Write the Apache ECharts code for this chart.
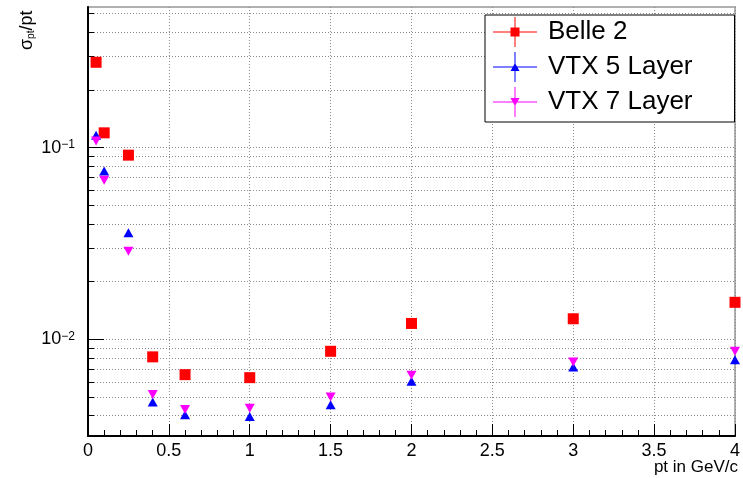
<!DOCTYPE html>
<html>
<head>
<meta charset="utf-8">
<script src="https://cdn.jsdelivr.net/npm/echarts@6/dist/echarts.min.js"></script>
<style>html,body{margin:0;padding:0;background:#fff}#chart{width:743px;height:478px}</style>
</head>
<body>
<div id="chart"></div>
<script>
// ---- data ----
const seriesNames = ['Belle 2', 'VTX 5 Layer', 'VTX 7 Layer'];
const ptValues = [0.05, 0.1, 0.25, 0.4, 0.6, 1.0, 1.5, 2.0, 3.0, 4.0];
const belle2 = [0.279, 0.1195, 0.0914, 0.0081, 0.00654, 0.00631, 0.00866, 0.0121, 0.0128, 0.0156];
const vtx5 = [0.116, 0.0756, 0.0360, 0.00471, 0.00404, 0.00396, 0.00456, 0.00605, 0.00717, 0.00783];
const vtx7 = [0.1085, 0.0676, 0.0288, 0.00516, 0.00430, 0.00437, 0.0050, 0.00649, 0.00761, 0.00866];
const yMajorTicks = [0.01, 0.1];
const yMinorTicks = [0.004, 0.005, 0.006, 0.007, 0.008, 0.009,
  0.02, 0.03, 0.04, 0.05, 0.06, 0.07, 0.08, 0.09, 0.2, 0.3, 0.4, 0.5];
const xTitle = 'pt in GeV/c';

const FONT = '"Liberation Sans", Arial, Helvetica, sans-serif';
const yMin = 0.00313, yMax = 0.542;

const pairs = arr => ptValues.map((x, i) => [x, arr[i]]);
const downTri = 'path://M0,0 L10,0 L5,10 Z';
const iconSq = 'path://M0,14.5 H44 V15.5 H0 Z M21.5,0 H22.5 V30 H21.5 Z M17.5,10.5 H26.5 V19.5 H17.5 Z';
const iconUp = 'path://M0,14.5 H44 V15.5 H0 Z M21.5,0 H22.5 V30 H21.5 Z M17.5,19 L22,11 L26.5,19 Z';
const iconDn = 'path://M0,14.5 H44 V15.5 H0 Z M21.5,0 H22.5 V30 H21.5 Z M17.5,11 L26.5,11 L22,19 Z';

const gridLine = {show: true, lineStyle: {color: '#8a8a8a', type: [1, 2], width: 1}};

const chart = echarts.init(document.getElementById('chart'), null, {renderer: 'canvas'});
chart.setOption({
  animation: false,
  backgroundColor: '#fff',
  grid: {left: 88, right: 3, top: 7, bottom: 42, show: true, borderColor: '#b0b0b0', borderWidth: 2},
  xAxis: {
    type: 'value', min: 0, max: 4, interval: 0.5,
    axisLine: {onZero: false, lineStyle: {color: '#000', width: 2}},
    axisTick: {inside: true, length: 12, lineStyle: {color: '#000', width: 1}},
    minorTick: {show: true, splitNumber: 5, length: 6, lineStyle: {color: '#000', width: 1}},
    splitLine: gridLine,
    axisLabel: {fontSize: 18, color: '#000', margin: 6, fontFamily: FONT}
  },
  yAxis: [{
    type: 'log', min: yMin, max: yMax, position: 'left',
    axisLine: {onZero: false, lineStyle: {color: '#000', width: 2}},
    axisTick: {inside: true, length: 16, customValues: yMajorTicks, lineStyle: {color: '#000', width: 1}},
    splitLine: gridLine,
    axisLabel: {
      customValues: yMajorTicks, fontSize: 18, color: '#000', margin: 13, fontFamily: FONT,
      formatter: v => '10{sup|\u2212' + (-Math.round(Math.log10(v))) + '}',
      rich: {sup: {fontSize: 12, verticalAlign: 'top', fontFamily: FONT, color: '#000'}}
    }
  }, {
    type: 'log', min: yMin, max: yMax, position: 'left',
    axisLine: {show: false},
    axisTick: {inside: true, length: 6, customValues: yMinorTicks, lineStyle: {color: '#000', width: 1}},
    splitLine: gridLine,
    axisLabel: {show: false}
  }],
  legend: {
    orient: 'vertical', left: 485, top: 15, padding: [2, 42, 5, 8], itemGap: 5,
    itemWidth: 44, itemHeight: 30, backgroundColor: '#fff', borderColor: '#000', borderWidth: 1,
    textStyle: {fontSize: 26, color: '#000', fontFamily: FONT, padding: [0, 0, 0, 6]},
    data: [{name: seriesNames[0], icon: iconSq}, {name: seriesNames[1], icon: iconUp}, {name: seriesNames[2], icon: iconDn}]
  },
  graphic: [{
    type: 'text', x: 738, y: 467,
    style: {text: xTitle, font: '17px ' + FONT, fill: '#000', align: 'right', verticalAlign: 'middle', textAlign: 'right', textVerticalAlign: 'middle'}
  }, {
    type: 'text', x: 36, y: 50, rotation: Math.PI / 2,
    style: {
      text: '\u03c3{sub|pt}/pt', font: '18px ' + FONT, fill: '#000',
      align: 'left', verticalAlign: 'bottom', textAlign: 'left', textVerticalAlign: 'bottom',
      rich: {sub: {fontSize: 10, verticalAlign: 'bottom', fontFamily: FONT, fill: '#000', color: '#000'}}
    }
  }],
  series: [{
    name: seriesNames[0], type: 'scatter', data: pairs(belle2), symbol: 'rect', symbolSize: 11,
    itemStyle: {color: '#ff0000', opacity: 1}, z: 3
  }, {
    name: seriesNames[1], type: 'scatter', data: pairs(vtx5), symbol: 'triangle', symbolSize: [10, 9],
    itemStyle: {color: '#0000ff', opacity: 1}, z: 3
  }, {
    name: seriesNames[2], type: 'scatter', data: pairs(vtx7), symbol: downTri, symbolSize: [10, 9],
    itemStyle: {color: '#ff00ff', opacity: 1}, z: 4
  }]
});
</script>
</body>
</html>
